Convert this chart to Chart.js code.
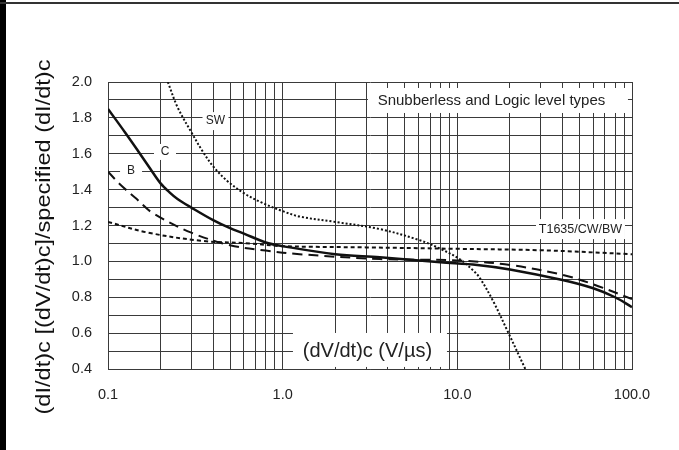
<!DOCTYPE html>
<html>
<head>
<meta charset="utf-8">
<script src="https://cdn.jsdelivr.net/npm/chart.js@4.4.1/dist/chart.umd.min.js"></script>
<style>
  html, body { margin: 0; padding: 0; background: #fff; }
  #wrap { width: 679px; height: 450px; position: relative; }
</style>
</head>
<body>
<div id="wrap"><canvas id="dvdt" width="679" height="450"></canvas></div>
<script>
// curve data
var cX  = [0.1, 0.125, 0.15, 0.175, 0.2, 0.225, 0.25, 0.3, 0.4, 0.5, 0.6, 0.8, 1, 2, 3.6, 8, 13, 20, 40, 60, 80, 100];
var cY  = [1.85, 1.72, 1.61, 1.515, 1.435, 1.385, 1.348, 1.3, 1.23, 1.185, 1.155, 1.105, 1.085, 1.04, 1.023, 0.995, 0.98, 0.955, 0.896, 0.85, 0.80, 0.745];

var bX  = [0.1, 0.117, 0.145, 0.18, 0.3, 0.5, 0.8, 1.25, 3.6, 10, 20, 40, 57, 100];
var bY  = [1.5, 1.43, 1.35, 1.27, 1.16, 1.09, 1.06, 1.04, 1.013, 1.005, 0.98, 0.925, 0.88, 0.79];

var tX  = [0.1, 0.17, 0.34, 0.65, 1, 3, 10, 30, 100];
var tY  = [1.22, 1.16, 1.115, 1.10, 1.085, 1.078, 1.07, 1.062, 1.04];

var swX = [0.22, 0.25, 0.3, 0.35, 0.4, 0.48, 0.6, 0.75, 1, 1.25, 2, 3.6, 6, 8, 10.4, 12.3, 13.4, 16, 19.2, 24.5];
var swY = [2.0, 1.86, 1.72, 1.61, 1.53, 1.45, 1.38, 1.33, 1.28, 1.25, 1.22, 1.18, 1.12, 1.07, 1.01, 0.95, 0.91, 0.78, 0.62, 0.40];

// axis ticks
var xGrid = [0.1, 0.2, 0.3, 0.4, 0.5, 0.6, 0.7, 0.8, 0.9,
             1, 2, 3, 4, 5, 6, 7, 8, 9,
             10, 20, 30, 40, 50, 60, 70, 80, 90, 100];
var xLabelVals  = [0.1, 1, 10, 100];
var xLabelTexts = ['0.1', '1.0', '10.0', '100.0'];
var yMin = 0.4, yMax = 2.0, yStep = 0.1;

var FONT = "'Liberation Sans', Arial, sans-serif";

function pts(xs, ys) {
  return xs.map(function (x, i) { return { x: x, y: ys[i] }; });
}

// text boxes on the plot (data coords of the text centre)
var notes = [
  { text: 'SW', x: 0.4126, y: 1.782, size: 12, w: 26, h: 18 },
  { text: 'C',  x: 0.212,  y: 1.61,  size: 12, w: 22, h: 16 },
  { text: 'B',  x: 0.1355, y: 1.504, size: 12, w: 22, h: 16 },
  { text: 'Snubberless and Logic level types', x: 15.68, y: 1.897, size: 15, w: 260, h: 25, dx: 6.5 },
  { text: 'T1635/CW/BW', x: 50.7, y: 1.18, size: 12.5, w: 89, h: 20 },
  { text: '(dV/dt)c (V/\u00b5s)', x: 3.058, y: 0.495, size: 20, w: 154, h: 34, dx: 2.5, dy: -2 }
];

var notesPlugin = {
  id: 'notes',
  beforeDatasetsDraw: function (chart) {
    var ctx = chart.ctx, xs = chart.scales.x, ys = chart.scales.y;
    ctx.save();
    notes.forEach(function (n) {
      var px = xs.getPixelForValue(n.x), py = ys.getPixelForValue(n.y);
      var bx = px + (n.dx || 0), by = py + (n.dy || 0);
      ctx.fillStyle = '#fff';
      ctx.fillRect(bx - n.w / 2, by - n.h / 2, n.w, n.h);
      ctx.fillStyle = '#222';
      ctx.font = n.size + 'px ' + FONT;
      ctx.textAlign = 'center';
      ctx.textBaseline = 'middle';
      ctx.fillText(n.text, px, py);
    });
    ctx.restore();
  },
  afterDraw: function (chart) {
    var ctx = chart.ctx;
    ctx.save();
    // frame
    ctx.fillStyle = '#000';
    ctx.fillRect(0, 0, 6, 450);
    ctx.fillStyle = '#333';
    ctx.fillRect(0, 2, 679, 2);
    // y axis title
    var t = '(dI/dt)c [(dV/dt)c]/specified (dI/dt)c';
    ctx.font = '20px ' + FONT;
    var w = ctx.measureText(t).width;
    ctx.translate(44, 237);
    ctx.rotate(-Math.PI / 2);
    ctx.scale(355 / w, 1);
    ctx.fillStyle = '#111';
    ctx.textAlign = 'center';
    ctx.textBaseline = 'middle';
    ctx.fillText(t, 0, 0);
    ctx.restore();
  }
};

var lineBase = {
  borderColor: '#111',
  pointRadius: 0,
  fill: false,
  tension: 0.35
};

new Chart(document.getElementById('dvdt'), {
  type: 'line',
  data: {
    datasets: [
      Object.assign({ label: 'C', data: pts(cX, cY), borderWidth: 2.5 }, lineBase),
      Object.assign({ label: 'B', data: pts(bX, bY), borderWidth: 2, borderDash: [10, 6] }, lineBase),
      Object.assign({ label: 'T1635/CW/BW', data: pts(tX, tY), borderWidth: 2, borderDash: [4, 3] }, lineBase),
      Object.assign({ label: 'SW', data: pts(swX, swY), borderWidth: 2, borderDash: [2, 2] }, lineBase)
    ]
  },
  options: {
    responsive: false,
    animation: false,
    devicePixelRatio: 1,
    layout: { padding: { left: 0, top: 82, right: 47, bottom: 0 } },
    plugins: { legend: { display: false }, tooltip: { enabled: false } },
    scales: {
      x: {
        type: 'logarithmic',
        min: 0.1,
        max: 100,
        afterBuildTicks: function (s) {
          s.ticks = xGrid.map(function (v) { return { value: v }; });
        },
        afterFit: function (s) { s.height = 81; },
        grid: { color: '#3a3a3a', lineWidth: 1, drawTicks: false },
        border: { color: '#3a3a3a' },
        ticks: {
          autoSkip: false,
          maxRotation: 0,
          padding: 17,
          color: '#222',
          font: { family: FONT, size: 14.5 },
          callback: function (v) {
            var i = xLabelVals.findIndex(function (d) { return Math.abs(d - v) < 1e-9; });
            return i >= 0 ? xLabelTexts[i] : '';
          }
        }
      },
      y: {
        min: yMin,
        max: yMax,
        afterFit: function (s) { s.width = 108; },
        grid: { color: '#3a3a3a', lineWidth: 1, drawTicks: false },
        border: { color: '#3a3a3a' },
        ticks: {
          stepSize: yStep,
          autoSkip: false,
          padding: 16,
          color: '#222',
          font: { family: FONT, size: 14.5 },
          callback: function (v) {
            return Math.round(v * 10) % 2 === 0 ? v.toFixed(1) : '';
          }
        }
      }
    }
  },
  plugins: [notesPlugin]
});
</script>
</body>
</html>
